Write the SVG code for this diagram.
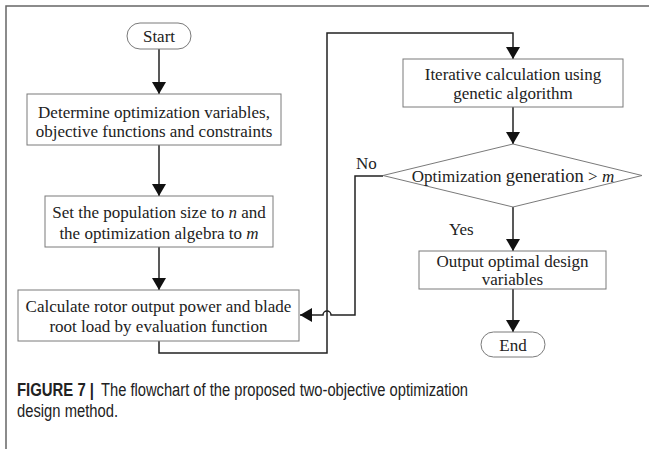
<svg xmlns="http://www.w3.org/2000/svg" width="649" height="449" viewBox="0 0 649 449">
<style>
.box{fill:#fff;stroke:#7a7a7a;stroke-width:1}
.t{font-family:"Liberation Serif","Times New Roman",serif;font-size:17px;fill:#222;text-anchor:middle}
.lbl{font-family:"Liberation Serif","Times New Roman",serif;font-size:17px;fill:#222}
.ln{fill:none;stroke:#222;stroke-width:1.5}
.cap{font-family:"Liberation Sans",Arial,sans-serif;font-size:18px;fill:#222}
</style>
<defs>
<marker id="ah" viewBox="0 0 12 14" refX="12" refY="7" markerWidth="12" markerHeight="14" markerUnits="userSpaceOnUse" orient="auto">
<path d="M0,0 L12,7 L0,14 Z" fill="#111"/>
</marker>
</defs>
<rect width="649" height="449" fill="#fff"/>
<path d="M6,449 V6 H649" fill="none" stroke="#666" stroke-width="1.5"/>
<g id="connectors">
<path class="ln" d="M159,49 V94" marker-end="url(#ah)"/>
<path class="ln" d="M159,145 V196" marker-end="url(#ah)"/>
<path class="ln" d="M159,247 V290" marker-end="url(#ah)"/>
<path class="ln" d="M159,341 V353 H327 V33 H513 V59" marker-end="url(#ah)"/>
<path class="ln" d="M513,107 V144" marker-end="url(#ah)"/>
<path class="ln" d="M383,176 H355 V315 H331 A4,4 0 0 0 323,315 H300" marker-end="url(#ah)"/>
<path class="ln" d="M513,207 V251" marker-end="url(#ah)"/>
<path class="ln" d="M513,289 V332" marker-end="url(#ah)"/>
</g>
<g id="start">
<rect class="box" x="127" y="23" width="64" height="26" rx="13"/>
<text class="t" x="159" y="42">Start</text>
</g>
<g id="determine">
<rect class="box" x="27" y="94" width="254" height="51"/>
<text class="t" x="154" y="118">Determine optimization variables,</text>
<text class="t" x="154" y="137">objective functions and constraints</text>
</g>
<g id="setpop">
<rect class="box" x="45" y="196" width="228" height="51"/>
<text class="t" x="159" y="218">Set the population size to <tspan font-style="italic">n</tspan> and</text>
<text class="t" x="159" y="239">the optimization algebra to <tspan font-style="italic">m</tspan></text>
</g>
<g id="calculate">
<rect class="box" x="18" y="290" width="281" height="51"/>
<text class="t" x="158.5" y="312">Calculate rotor output power and blade</text>
<text class="t" x="158.5" y="332">root load by evaluation function</text>
</g>
<g id="iterative">
<rect class="box" x="403" y="59" width="220" height="48"/>
<text class="t" x="513" y="80">Iterative calculation using</text>
<text class="t" x="513" y="99">genetic algorithm</text>
</g>
<g id="decision">
<polygon class="box" points="513,144 642,175.5 513,207 383,175.5"/>
<text class="t" x="513" y="181.5">Optimization <tspan font-size="18.5px">generation</tspan> &gt; <tspan font-style="italic">m</tspan></text>
</g>
<g id="output">
<rect class="box" x="419" y="251" width="187" height="38"/>
<text class="t" x="512.5" y="267">Output optimal design</text>
<text class="t" x="512.5" y="285">variables</text>
</g>
<g id="end">
<rect class="box" x="481" y="332" width="64" height="25" rx="12.5"/>
<text class="t" x="513" y="350.5">End</text>
</g>
<text class="lbl" x="356" y="169">No</text>
<text class="lbl" x="449" y="235">Yes</text>
<text class="cap" x="17" y="396" font-weight="bold" textLength="77" lengthAdjust="spacingAndGlyphs">FIGURE 7 |</text>
<text class="cap" x="101" y="396" textLength="367" lengthAdjust="spacingAndGlyphs">The flowchart of the proposed two-objective optimization</text>
<text class="cap" x="17" y="417" textLength="101" lengthAdjust="spacingAndGlyphs">design method.</text>
</svg>
